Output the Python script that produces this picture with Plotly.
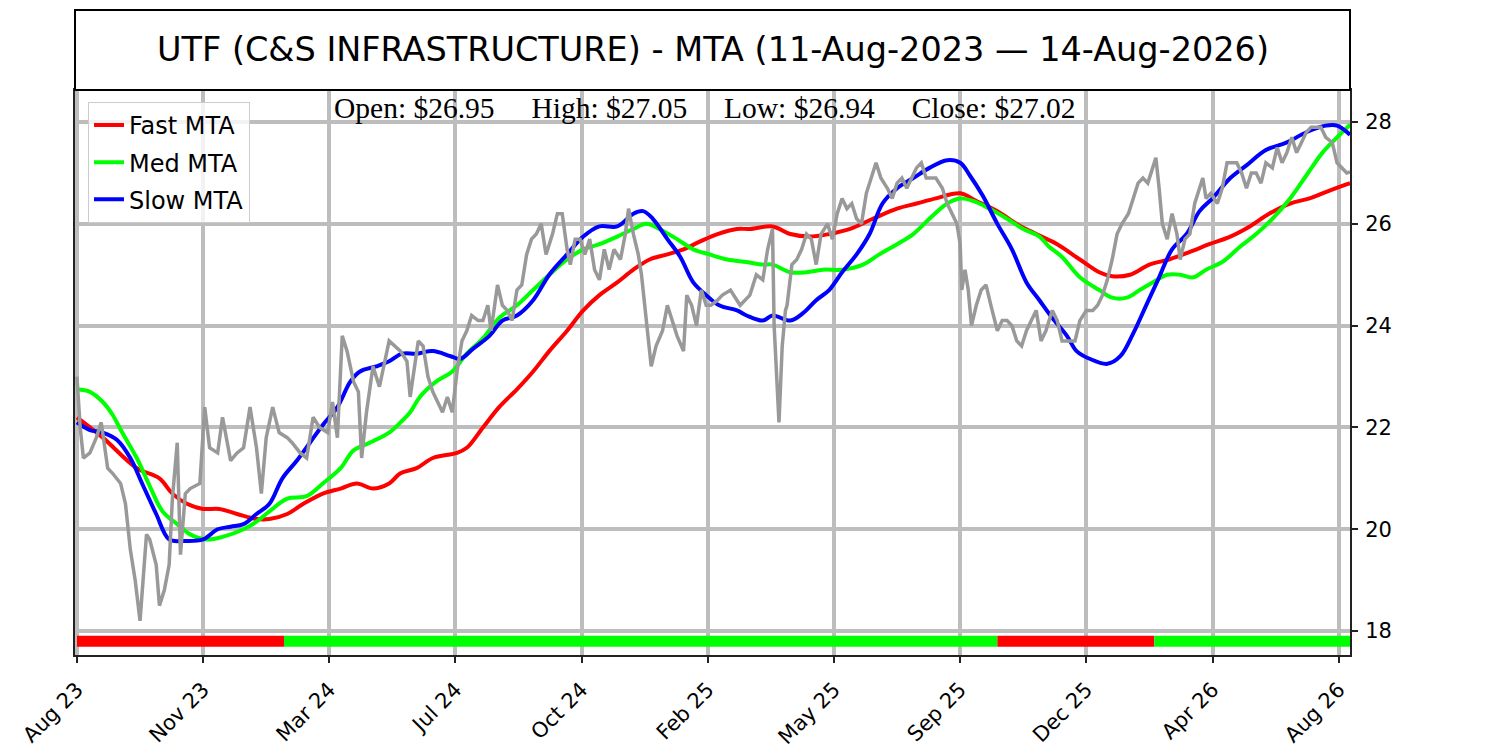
import plotly.graph_objects as go

# x axis is trading-day index; ticks every 78 bars
tick_idx = [0, 78, 156, 234, 312, 390, 468, 546, 624, 702, 780]
tick_labels = ['Aug 23', 'Nov 23', 'Mar 24', 'Jul 24', 'Oct 24', 'Feb 25',
               'May 25', 'Sep 25', 'Dec 25', 'Apr 26', 'Aug 26']
price_ticks = [18, 20, 22, 24, 26, 28]

price_idx = [0, 2, 4, 8, 12, 15, 19, 22, 27, 30, 33, 36, 39, 41, 43, 45, 49, 51, 54, 57,
             59, 62, 64, 67, 70, 76, 79, 82, 87, 90, 95, 99, 103, 107, 111, 114, 117, 121, 125, 130,
             133, 138, 142, 146, 150, 155, 158, 161, 164, 167, 171, 174, 176, 179, 183, 187, 193, 200, 204, 206,
             208, 211, 214, 217, 220, 223, 226, 229, 232, 235, 238, 241, 244, 248, 251, 254, 256, 260, 263, 266,
             269, 272, 275, 278, 281, 284, 287, 290, 294, 297, 300, 303, 305, 308, 311, 314, 317, 320, 323, 326,
             329, 332, 336, 339, 341, 344, 347, 349, 351, 353, 355, 358, 362, 365, 368, 371, 375, 377, 380, 383,
             386, 389, 392, 396, 399, 404, 410, 416, 420, 424, 427, 430, 431, 433, 434, 436, 438, 439, 442, 445,
             448, 451, 454, 457, 460, 464, 467, 470, 473, 476, 479, 482, 485, 488, 491, 494, 497, 501, 504, 507,
             510, 513, 516, 519, 522, 525, 528, 531, 535, 538, 541, 544, 546, 547, 549, 551, 553, 556, 559, 562,
             565, 569, 572, 575, 578, 581, 584, 587, 590, 593, 596, 599, 603, 606, 609, 612, 617, 620, 624, 628,
             631, 634, 637, 640, 643, 646, 650, 653, 656, 659, 662, 665, 667, 669, 671, 674, 677, 680, 682, 685,
             688, 691, 694, 696, 698, 701, 705, 708, 711, 714, 717, 720, 723, 726, 729, 732, 735, 739, 742, 745,
             748, 751, 754, 757, 760, 763, 766, 769, 772, 776, 779, 782, 785, 787]
price_val = [23.0, 22.0, 21.4, 21.5, 21.8, 22.1, 21.2, 21.1, 20.9, 20.5, 19.6, 19.0, 18.2, 19.0, 19.9, 19.8, 19.3, 18.5, 18.8, 19.3,
             20.6, 21.7, 19.5, 20.7, 20.8, 20.9, 22.4, 21.6, 21.5, 22.2, 21.35, 21.5, 21.6, 22.4, 21.6, 20.7, 21.8, 22.4, 21.9, 21.8,
             21.7, 21.5, 21.4, 22.2, 22.0, 21.9, 22.5, 21.8, 23.8, 23.5, 22.9, 22.7, 21.4, 22.3, 23.2, 22.8, 23.7, 23.5, 23.3, 22.6,
             23.0, 23.7, 23.6, 23.0, 22.7, 22.5, 22.3, 22.6, 22.3, 23.1, 23.7, 23.9, 24.2, 24.1, 24.1, 24.4, 23.9, 24.8, 24.4, 24.3,
             24.1, 24.7, 24.8, 25.4, 25.7, 25.8, 26.0, 25.4, 25.8, 26.2, 26.2, 25.5, 25.2, 25.7, 25.7, 25.4, 25.7, 25.1, 24.9, 25.5,
             25.1, 25.5, 25.3, 25.8, 26.3, 25.8, 25.4, 25.0, 24.4, 23.9, 23.2, 23.6, 23.9, 24.4, 24.1, 23.8, 23.5, 24.6, 24.4, 24.0,
             24.7, 24.4, 24.4, 24.5, 24.6, 24.7, 24.4, 24.6, 25.0, 24.9, 25.5, 25.9, 24.0, 22.5, 22.1, 23.6, 24.3, 24.4, 25.2, 25.3,
             25.5, 25.8, 25.7, 25.2, 25.8, 26.0, 25.7, 26.2, 26.5, 26.3, 26.4, 26.1, 26.0, 26.6, 26.9, 27.2, 26.9, 26.7, 26.5, 26.8,
             26.9, 26.7, 26.9, 27.1, 27.2, 26.9, 26.9, 26.9, 26.7, 26.4, 26.2, 26.0, 25.6, 24.7, 25.1, 24.7, 24.0, 24.4, 24.7, 24.8,
             24.4, 23.9, 24.1, 24.1, 24.0, 23.7, 23.6, 23.9, 24.1, 24.3, 23.7, 23.9, 24.3, 24.1, 23.7, 23.7, 23.7, 24.1, 24.3, 24.3,
             24.4, 24.6, 24.9, 25.3, 25.8, 26.0, 26.2, 26.5, 26.8, 26.9, 26.8, 27.1, 27.3, 26.7, 26.0, 25.7, 26.2, 25.8, 25.3, 25.7,
             25.8, 26.4, 26.7, 26.9, 26.5, 26.6, 26.4, 26.7, 27.2, 27.2, 27.2, 27.0, 26.7, 27.0, 27.0, 26.8, 27.2, 27.1, 27.5, 27.2,
             27.4, 27.7, 27.4, 27.6, 27.8, 27.9, 27.9, 27.9, 27.7, 27.6, 27.2, 27.1, 27.0, 27.02]

fast_idx = [0, 16, 37, 51, 59, 68, 78, 88, 99, 111, 119, 130, 140, 152, 163, 173, 183, 193, 200, 210,
            220, 235, 241, 251, 261, 272, 282, 292, 303, 313, 323, 334, 344, 354, 365, 375, 385, 396, 408, 416,
            430, 441, 453, 465, 478, 492, 507, 519, 531, 546, 556, 569, 581, 593, 606, 620, 632, 640, 651, 663,
            675, 688, 700, 713, 725, 737, 750, 762, 774, 787]
fast_val = [22.2, 21.8, 21.2, 21.0, 20.7, 20.5, 20.4, 20.4, 20.3, 20.2, 20.2, 20.3, 20.5, 20.7, 20.8, 20.9, 20.8, 20.9, 21.1, 21.2,
            21.4, 21.5, 21.6, 22.0, 22.4, 22.75, 23.1, 23.5, 23.9, 24.3, 24.6, 24.85, 25.1, 25.3, 25.4, 25.5, 25.65, 25.8, 25.9, 25.9,
            25.95, 25.8, 25.75, 25.8, 25.9, 26.1, 26.3, 26.4, 26.5, 26.6, 26.45, 26.25, 26.0, 25.8, 25.6, 25.3, 25.05, 24.97, 25.0, 25.2,
            25.3, 25.45, 25.6, 25.75, 25.95, 26.2, 26.4, 26.5, 26.65, 26.8]

med_idx = [0, 8, 16, 22, 28, 37, 45, 53, 62, 70, 80, 90, 103, 111, 119, 130, 142, 152, 163, 171,
           181, 193, 200, 206, 212, 222, 232, 241, 251, 261, 272, 282, 292, 303, 313, 323, 334, 344, 352, 360,
           371, 381, 391, 402, 414, 424, 430, 441, 451, 461, 473, 486, 496, 507, 517, 527, 538, 546, 554, 564,
           575, 585, 595, 601, 609, 620, 632, 640, 649, 657, 665, 674, 682, 690, 698, 708, 719, 729, 739, 750,
           760, 770, 779, 787]
med_val = [22.75, 22.7, 22.5, 22.25, 21.9, 21.4, 20.85, 20.35, 20.1, 19.9, 19.8, 19.85, 20.0, 20.15, 20.35, 20.6, 20.65, 20.9, 21.2, 21.55,
           21.7, 21.9, 22.1, 22.3, 22.6, 22.9, 23.1, 23.45, 23.75, 24.15, 24.4, 24.7, 25.0, 25.3, 25.5, 25.6, 25.75, 25.9, 26.0, 25.9,
           25.7, 25.5, 25.4, 25.3, 25.25, 25.2, 25.2, 25.05, 25.05, 25.1, 25.1, 25.2, 25.4, 25.6, 25.8, 26.1, 26.4, 26.5, 26.45, 26.3,
           26.1, 25.9, 25.75, 25.55, 25.35, 24.95, 24.7, 24.55, 24.55, 24.7, 24.85, 25.0, 25.0, 24.95, 25.1, 25.25, 25.55, 25.8, 26.1, 26.5,
           26.95, 27.4, 27.7, 27.95]

slow_idx = [0, 8, 16, 25, 33, 41, 49, 57, 66, 78, 87, 95, 103, 111, 119, 127, 136, 144, 152, 161,
            169, 175, 185, 193, 201, 210, 220, 231, 237, 245, 255, 263, 272, 282, 292, 303, 313, 323, 334, 344,
            350, 356, 365, 373, 381, 389, 397, 408, 414, 424, 430, 441, 449, 457, 465, 473, 482, 490, 498, 507,
            517, 527, 538, 546, 552, 560, 569, 578, 587, 595, 603, 612, 618, 626, 637, 645, 653, 661, 669, 677,
            686, 694, 702, 713, 723, 735, 748, 760, 772, 779, 787]
slow_val = [22.1, 21.95, 21.9, 21.75, 21.4, 20.85, 20.3, 19.8, 19.77, 19.8, 20.0, 20.05, 20.1, 20.3, 20.5, 21.0, 21.35, 21.7, 22.05, 22.4,
            22.9, 23.1, 23.2, 23.3, 23.45, 23.45, 23.5, 23.4, 23.35, 23.55, 23.8, 24.1, 24.2, 24.5, 25.0, 25.4, 25.75, 25.95, 25.95, 26.2,
            26.25, 26.1, 25.7, 25.35, 24.85, 24.6, 24.4, 24.3, 24.2, 24.1, 24.2, 24.1, 24.25, 24.5, 24.7, 25.05, 25.4, 25.8, 26.4, 26.7,
            26.9, 27.1, 27.25, 27.2, 26.95, 26.55, 26.0, 25.5, 24.85, 24.5, 24.15, 23.8, 23.5, 23.35, 23.25, 23.4, 23.85, 24.4, 24.95, 25.5,
            25.8, 26.25, 26.5, 26.9, 27.15, 27.45, 27.6, 27.8, 27.93, 27.93, 27.75]

# trend signal strip along the bottom
signal_start = [0, 128, 569, 666]
signal_end = [128, 569, 666, 787]
signal_color = ['#ff0000', '#00ff00', '#ff0000', '#00ff00']
signal_level = 17.8

ohlc = {'Open': 26.95, 'High': 27.05, 'Low': 26.94, 'Close': 27.02}
title = 'UTF (C&S INFRASTRUCTURE) - MTA (11-Aug-2023 \u2014 14-Aug-2026)'

assert len(price_idx) == len(price_val)
assert len(fast_idx) == len(fast_val)
assert len(med_idx) == len(med_val)
assert len(slow_idx) == len(slow_val)

fig = go.Figure()

for name, xs, ys, color in [('Fast MTA', fast_idx, fast_val, '#ff0000'),
                            ('Med MTA', med_idx, med_val, '#00ff00'),
                            ('Slow MTA', slow_idx, slow_val, '#0000ff')]:
    fig.add_trace(go.Scatter(x=xs, y=ys, mode='lines', name=name, legendgroup=name,
                             line=dict(color=color, width=4, shape='spline', smoothing=1.0)))

fig.add_trace(go.Scatter(x=price_idx, y=price_val, mode='lines', showlegend=False,
                         line=dict(color='#999999', width=3.5)))

for s, e, c in zip(signal_start, signal_end, signal_color):
    fig.add_trace(go.Scatter(x=[s, e], y=[signal_level, signal_level], mode='lines',
                             showlegend=False, line=dict(color=c, width=11)))

sp = '\u00a0' * 5
ohlc_text = sp.join('%s: $%.2f' % (k, v) for k, v in ohlc.items())

fig.add_annotation(text=ohlc_text, xref='paper', yref='paper', x=0.494, y=0.968,
                   xanchor='center', yanchor='middle', showarrow=False,
                   font=dict(family='Liberation Serif, Times New Roman, serif', size=29.5, color='black'))

# boxed title above the plot
fig.add_shape(type='rect', xref='paper', yref='paper', x0=0, x1=1, y0=1, y1=1.1416,
              line=dict(color='black', width=2), fillcolor='white', layer='above')
fig.add_annotation(text=title, xref='paper', yref='paper', x=0.5, y=1.0708,
                   xanchor='center', yanchor='middle', showarrow=False,
                   font=dict(family='DejaVu Sans', size=33.5, color='black'))

# the page body adds an 8px offset, so the figure is sized to compensate
fig.update_layout(
    width=1492, height=742,
    margin=dict(l=67, r=150, t=82, b=95, autoexpand=False),
    plot_bgcolor='white', paper_bgcolor='white',
    font=dict(family='DejaVu Sans', color='black'),
    legend=dict(x=0.0102, y=0.979, xanchor='left', yanchor='top',
                bgcolor='rgba(255,255,255,0.8)', bordercolor='#cccccc', borderwidth=1,
                font=dict(size=24), itemwidth=30, traceorder='grouped', tracegroupgap=3),
    xaxis=dict(range=[-1.2, 787], tickvals=tick_idx, ticktext=tick_labels, tickangle=-45,
               showgrid=True, gridcolor='#bdbdbd', gridwidth=4, zeroline=False,
               showline=True, linecolor='#222222', linewidth=2, mirror=True,
               ticks='outside', ticklen=6, tickwidth=2, tickcolor='#222222', automargin=False,
               ticklabelstandoff=6, tickfont=dict(size=21)),
    yaxis=dict(range=[17.53, 28.63], tickvals=price_ticks, side='right',
               showgrid=True, gridcolor='#bdbdbd', gridwidth=4, zeroline=False,
               showline=True, linecolor='#222222', linewidth=2, mirror=True,
               ticks='outside', ticklen=6, tickwidth=2, tickcolor='#222222', automargin=False,
               ticklabelstandoff=3, tickfont=dict(size=21)),
)

fig.write_html('out.html')
